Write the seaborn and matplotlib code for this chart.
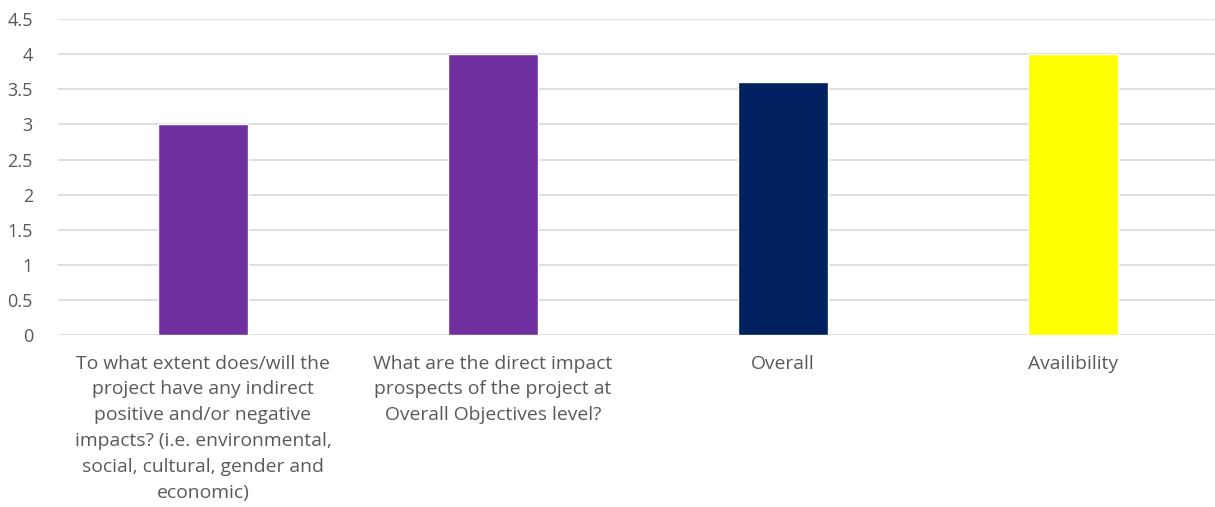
import matplotlib
matplotlib.use("Agg")
import matplotlib.pyplot as plt
import seaborn as sns
import pandas as pd

# data
categories = [
    "To what extent does/will the\nproject have any indirect\npositive and/or negative\nimpacts? (i.e. environmental,\nsocial, cultural, gender and\neconomic)",
    "What are the direct impact\nprospects of the project at\nOverall Objectives level?",
    "Overall",
    "Availibility",
]
scores = [3.0, 4.0, 3.6, 4.0]
bar_colors = ["#7030A0", "#7030A0", "#002060", "#FFFF00"]

df = pd.DataFrame({"question": categories, "score": scores})

sns.set_theme(style="white")
plt.rcParams["font.family"] = ["Open Sans", "DejaVu Sans"]

fig = plt.figure(figsize=(12.15, 5.07), dpi=100)
ax = fig.add_axes([0.0477, 0.339, 0.955, 0.6235])

sns.barplot(data=df, x="question", y="score", hue="question",
            palette=bar_colors, width=0.31, legend=False, ax=ax,
            saturation=1)

ax.set_ylim(0, 4.5)
ax.set_yticks([0, 0.5, 1, 1.5, 2, 2.5, 3, 3.5, 4, 4.5])
ax.set_yticklabels(["0", "0.5", "1", "1.5", "2", "2.5", "3", "3.5", "4", "4.5"])
ax.set_xlim(-0.5, 3.5)
ax.yaxis.grid(True, color="#d9d9d9", linewidth=1.2)
ax.set_axisbelow(True)
for s in ax.spines.values():
    s.set_visible(False)
ax.set_xlabel("")
ax.set_ylabel("")
ax.tick_params(axis="both", length=0, colors="#595959")
ax.tick_params(axis="x", pad=14, labelsize=13.9)
ax.tick_params(axis="y", pad=18, labelsize=13)
for lbl in ax.get_xticklabels():
    lbl.set_linespacing(1.56)
    lbl.set_va("top")

fig.savefig("out.png", dpi=100)
